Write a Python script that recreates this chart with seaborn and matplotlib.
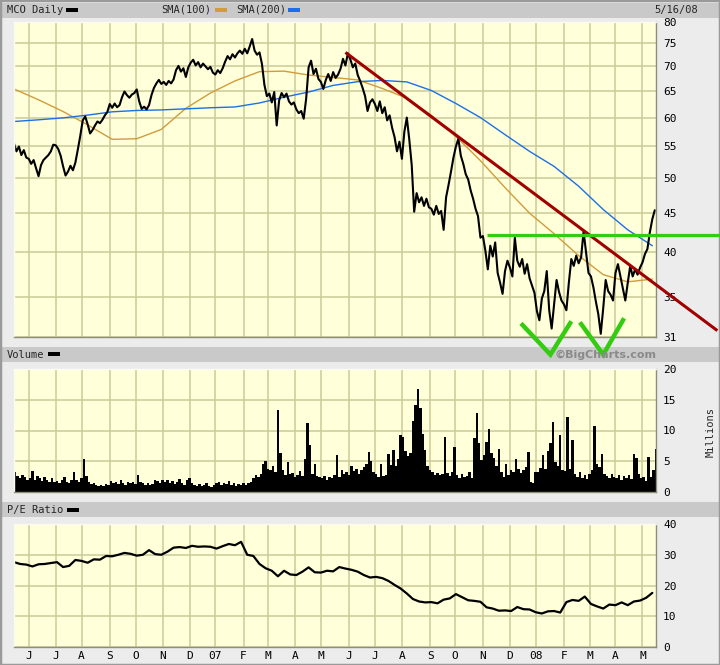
import numpy as np
import pandas as pd
import matplotlib
matplotlib.use("Agg")
import matplotlib.pyplot as plt
from matplotlib.patches import Rectangle
from matplotlib.ticker import NullLocator, FixedLocator
import seaborn as sns

start = "2006-05-16"
end = "2008-05-16"

# daily close, read every 2nd trading day, one row per month
close = [
    55.5, 54.2, 55.0, 53.6, 54.4, 53.2,
    53.0, 52.2, 52.8, 51.5, 50.3, 52.0, 52.8, 53.2, 53.6, 54.2, 55.3,
    55.2, 54.6, 53.5, 51.8, 50.4, 51.0, 51.9, 51.2, 52.4, 54.5, 56.8,
    59.5, 60.2, 58.8, 57.2, 57.8, 58.6, 59.3, 59.0, 59.6, 60.4, 61.0,
    62.5, 61.8, 62.6, 61.9, 62.3, 63.8, 64.9, 64.2, 63.7, 64.3, 64.6,
    65.3, 63.0, 61.6, 62.0, 61.5, 62.3, 64.2, 65.6, 66.5, 67.2, 66.4,
    66.8, 66.2, 67.0, 66.5, 67.3, 69.2, 70.1, 68.9, 69.6, 67.8, 69.8,
    70.8, 71.4, 70.2, 70.9, 69.8, 70.6, 70.0, 69.4, 69.9, 68.7,
    68.3, 69.2, 68.6, 69.6, 71.0, 72.2, 71.5, 72.6, 71.9, 72.8, 73.4, 72.7,
    73.8, 72.8, 74.3, 76.0, 73.4, 72.5, 73.0, 70.5, 66.2, 64.0,
    64.5, 62.8, 64.8, 58.6, 63.2, 64.6, 63.8, 64.5, 63.0, 62.4, 62.8,
    61.5, 60.8, 61.2, 59.8, 63.5, 69.8, 71.2, 68.4, 69.5, 67.4,
    66.8, 65.4, 67.2, 68.4, 67.0, 68.8, 67.6, 68.3, 69.5, 71.6, 70.2, 72.8,
    71.5, 69.8, 70.6, 68.2, 67.0, 65.6, 64.0, 61.2, 62.8, 63.4,
    62.5, 61.2, 63.0, 60.8, 61.9, 59.5, 60.4, 58.2, 56.6, 54.2, 55.8,
    53.0, 57.5, 60.0, 56.2, 52.0, 45.2, 47.8, 46.5, 47.2, 46.0, 47.0, 45.8,
    45.6, 44.8, 46.0, 44.9, 45.3, 42.8, 47.2, 49.0, 51.0, 53.2,
    55.0, 56.3, 53.5, 52.2, 50.6, 49.8, 48.2, 47.0, 45.6, 44.6, 41.8,
    42.0, 40.2, 38.0, 40.8, 39.5, 41.2, 37.6, 36.5, 35.3, 37.8, 39.0,
    38.2, 37.2, 41.8, 39.0, 38.3, 39.2, 37.5, 38.6, 37.0, 36.2, 35.4,
    33.5, 32.6, 34.8, 35.6, 37.8, 33.6, 31.8, 34.2, 36.8, 35.5, 34.6,
    34.2, 33.6, 36.5, 39.2, 38.4, 39.6, 38.7, 39.4, 42.6, 40.0, 37.6,
    37.2, 36.0, 34.5, 33.2, 31.3, 33.8, 36.8, 35.6, 35.2, 34.6,
    37.6, 38.6, 37.2, 35.8, 34.6, 36.5, 38.4, 37.2, 38.0, 37.4, 38.2,
    38.8, 39.8, 40.4, 42.5, 44.2, 45.4,
]

# volume in millions, same sampling as close
volume = [
    3.2, 2.6, 2.2, 2.8, 2.4, 2.0,
    2.2, 3.4, 2.0, 2.6, 2.3, 1.8, 2.4, 2.0, 1.7, 2.2, 1.6,
    1.8, 1.5, 2.0, 2.4, 1.7, 1.4, 1.9, 3.2, 2.0, 1.6, 2.2,
    5.3, 2.6, 1.6, 1.3, 1.5, 1.1, 0.9, 1.2, 1.0, 1.3, 1.1,
    1.8, 1.4, 1.6, 1.3, 1.9, 1.5, 1.2, 1.6, 1.4, 1.7, 1.3,
    2.7, 1.6, 1.4, 1.2, 1.5, 1.1, 1.3, 2.0, 1.8, 1.5, 1.9,
    1.7, 2.0, 1.5, 1.8, 1.3, 1.6, 2.1, 1.4, 1.2, 1.9, 2.3,
    1.5, 1.2, 1.0, 1.3, 0.9, 1.1, 1.4, 1.0, 0.8, 1.2,
    1.4, 1.7, 1.2, 1.5, 1.3, 1.8, 1.1, 1.4, 1.0, 1.3, 1.2, 1.5,
    1.2, 1.4, 1.6, 2.2, 2.8, 2.4, 3.0, 4.5, 5.1, 3.8,
    3.6, 4.2, 3.2, 13.3, 6.4, 3.5, 2.8, 4.9, 2.9, 3.1, 2.5,
    2.8, 3.4, 2.6, 5.4, 11.2, 7.6, 3.0, 4.5, 2.6, 2.4,
    2.2, 2.6, 1.9, 2.5, 2.3, 2.8, 6.0, 2.4, 3.6, 2.9, 3.3, 2.7,
    4.2, 3.4, 3.8, 2.9, 3.5, 4.0, 4.6, 6.5, 5.0, 3.3,
    3.0, 2.4, 4.6, 2.6, 2.8, 6.2, 4.4, 6.8, 4.3, 5.4, 9.2,
    9.0, 6.6, 5.9, 6.4, 11.6, 14.2, 16.8, 13.6, 9.4, 6.8, 4.3, 3.6,
    3.2, 2.8, 3.1, 2.7, 3.0, 9.0, 3.1, 2.6, 3.3, 7.3,
    2.8, 2.3, 3.0, 2.4, 2.6, 3.2, 2.2, 8.7, 12.8, 7.9, 5.2,
    6.0, 8.2, 10.3, 6.3, 5.5, 4.3, 7.0, 3.3, 2.4, 4.6, 2.8,
    3.6, 3.2, 5.4, 3.8, 3.1, 3.5, 4.0, 6.5, 1.6, 1.4, 3.2,
    3.3, 3.9, 6.0, 3.8, 6.6, 7.9, 11.4, 4.8, 4.2, 9.2, 3.6,
    3.4, 12.2, 3.8, 8.4, 2.9, 2.5, 3.2, 2.3, 2.8, 2.1, 3.0,
    3.6, 10.8, 4.5, 4.1, 6.2, 3.0, 2.6, 2.2, 2.9, 2.4,
    2.3, 2.8, 2.0, 2.6, 2.2, 2.7, 2.1, 6.2, 5.6, 3.0, 2.2,
    2.5, 1.8, 5.7, 2.4, 3.6, 7.0,
]

# moving averages, read every 20 trading days
sma100 = [65.4, 63.3, 61.1, 58.7, 56.2, 56.3, 57.9, 61.7, 64.6, 67.0, 68.9,
          69.0, 68.2, 67.7, 67.2, 65.5, 63.6, 60.4, 56.7, 52.7, 48.6, 45.0,
          42.3, 39.6, 37.4, 36.6, 36.9]
sma200 = [59.3, 59.6, 59.95, 60.45, 61.05, 61.3, 61.4, 61.6, 61.8, 61.95, 62.7,
          63.8, 64.8, 66.1, 66.85, 67.1, 66.8, 65.1, 62.6, 60.0, 57.0, 54.2,
          51.8, 48.8, 45.5, 42.8, 40.8]

# P/E ratio, read every 5 trading days
pe = [27.6, 27.0, 26.8, 26.2, 26.9, 27.0, 27.3, 27.6, 26.0, 26.4,
      28.3, 28.0, 27.4, 28.5, 28.4, 29.6, 29.5, 30.0, 30.6, 30.3,
      29.7, 30.0, 31.5, 30.2, 30.0, 31.0, 32.3, 32.5, 32.2, 32.9,
      32.6, 32.7, 32.6, 32.0, 32.8, 33.5, 33.1, 34.2, 30.0, 29.6,
      27.0, 25.6, 24.8, 23.0, 24.8, 23.6, 23.4, 24.5, 25.9, 24.3,
      24.2, 24.8, 24.6, 26.0, 25.5, 25.1, 24.5, 23.4, 22.6, 22.8,
      22.4, 21.5, 20.2, 19.0, 17.4, 15.6, 14.8, 14.5, 14.6, 14.2,
      15.4, 15.8, 17.2, 16.2, 15.2, 15.0, 14.7, 12.9, 12.5, 11.8,
      11.9, 11.7, 13.0, 12.3, 12.2, 11.3, 10.9, 11.6, 11.7, 11.2,
      14.6, 15.3, 15.0, 16.4, 14.0, 13.2, 12.5, 13.8, 13.6, 14.5,
      13.6, 14.8, 15.1, 16.0, 17.6]

# hand drawn annotations (date, price)
trend_dates = ["2007-05-29", "2008-07-25"]
trend_prices = [73.0, 31.6]
support_dates = ["2007-11-06", "2008-07-29"]
support_prices = [42.1, 42.1]
check1_dates = ["2007-12-14", "2008-01-17", "2008-02-11"]
check1_prices = [32.3, 29.4, 32.5]
check2_dates = ["2008-02-20", "2008-03-18", "2008-04-10"]
check2_prices = [32.4, 29.4, 32.8]

price_ticks = [31, 35, 40, 45, 50, 55, 60, 65, 70, 75, 80]
vol_ticks = [0, 5, 10, 15, 20]
pe_ticks = [0, 10, 20, 30, 40]

BG = "#ececec"
BAND = "#c9c9c9"
PANEL = "#ffffd9"
GRID = "#cbca98"
TAN = "#d19c3c"
BLUE = "#1d6fe8"
RED = "#a00000"
GREEN = "#33cc11"

sns.set_style("white")
plt.rcParams["font.family"] = ["DejaVu Sans Mono"]


def tday(d):
    return np.busday_count(start, np.datetime64(d, "D"))


def fx(px):
    return px / 720


def fy(py):
    return 1 - py / 665


days = pd.bdate_range(start, end)
n = len(days)
idx = np.arange(n)
is_first = np.r_[False, days.month[1:] != days.month[:-1]]
mpos = idx[is_first]
mlab = [d.strftime("%y") if d.month == 1 else d.strftime("%b")[0] for d in days[is_first]]

fig = plt.figure(figsize=(7.2, 6.65), dpi=100, facecolor=BG)

# grey header bands
for top in (3, 347, 502):
    fig.add_artist(Rectangle((fx(2), fy(top + 14.5)), fx(718), 14.5 / 665,
                             transform=fig.transFigure, color=BAND, lw=0, zorder=-1))
fig.add_artist(Rectangle((0, 0), 1, 1, transform=fig.transFigure, fill=False,
                         edgecolor="#9a9a9a", lw=2.5, zorder=-1))

ax1 = fig.add_axes([fx(14), fy(337), fx(642), 315 / 665])
ax2 = fig.add_axes([fx(14), fy(492), fx(642), 123 / 665])
ax3 = fig.add_axes([fx(14), fy(647), fx(642), 123 / 665])

for ax in (ax1, ax2, ax3):
    ax.set_facecolor(PANEL)
    ax.set_xlim(0, n - 1)
    ax.xaxis.set_major_locator(FixedLocator(mpos))
    ax.grid(True, color=GRID, lw=1.1)
    ax.set_axisbelow(True)
    ax.yaxis.tick_right()
    ax.tick_params(length=0, labelsize=8, pad=5, labelcolor="black")
    for side in ("top", "left"):
        ax.spines[side].set_color("#fbfbf3")
    for side in ("bottom", "right"):
        ax.spines[side].set_color("#8e8e78")
    for sp in ax.spines.values():
        sp.set_linewidth(1)
    ax.set_xlabel("")
    ax.set_ylabel("")

# price panel
ax1.set_yscale("log")
ax1.set_ylim(31, 80)
ax1.yaxis.set_major_locator(FixedLocator(price_ticks))
ax1.yaxis.set_minor_locator(NullLocator())
ax1.set_yticklabels([str(t) for t in price_ticks])
ax1.set_xticklabels([])

px = np.arange(len(close)) * 2
sx = np.arange(len(sma100)) * 20
sns.lineplot(x=sx, y=sma100, ax=ax1, color=TAN, lw=1.0, estimator=None)
sns.lineplot(x=sx, y=sma200, ax=ax1, color=BLUE, lw=1.0, estimator=None)
sns.lineplot(x=px, y=close, ax=ax1, color="black", lw=1.5, estimator=None)

ax1.plot([tday(d) for d in trend_dates], trend_prices, color=RED, lw=2.2,
         clip_on=False, zorder=5, solid_capstyle="butt")
ax1.plot([tday(d) for d in support_dates], support_prices, color=GREEN, lw=2.3,
         clip_on=False, zorder=5, solid_capstyle="butt")
for dts, prs in ((check1_dates, check1_prices), (check2_dates, check2_prices)):
    ax1.plot([tday(d) for d in dts], prs, color=GREEN, lw=3.2, clip_on=False,
             zorder=6, solid_capstyle="butt", solid_joinstyle="miter")
ax1.set_xlim(0, n - 1)
ax1.set_ylim(31, 80)

# volume panel
vx = np.arange(len(volume)) * 2
ax2.bar(vx, volume, width=2, align="edge", color="black", lw=0)
ax2.set_ylim(0, 20)
ax2.set_yticks(vol_ticks)
ax2.set_xticklabels([])
ax2.set_xlim(0, n - 1)

# P/E panel
ex = np.arange(len(pe)) * 5
sns.lineplot(x=ex, y=pe, ax=ax3, color="black", lw=1.6, estimator=None)
ax3.set_ylim(0, 40)
ax3.set_yticks(pe_ticks)
ax3.set_xticklabels(mlab)
ax3.tick_params(axis="x", pad=3)
ax3.set_xlim(0, n - 1)

# header texts and legend swatches
fs = 7.5
fig.text(fx(7), fy(10), "MCO Daily", fontsize=fs, va="center")
fig.text(fx(161), fy(10), "SMA(100)", fontsize=fs, va="center")
fig.text(fx(236), fy(10), "SMA(200)", fontsize=fs, va="center")
fig.text(fx(698), fy(10), "5/16/08", fontsize=fs, va="center", ha="right")
fig.text(fx(7), fy(354.5), "Volume", fontsize=fs, va="center")
fig.text(fx(7), fy(509.5), "P/E Ratio", fontsize=fs, va="center")
fig.text(fx(656), fy(354.5), "\u00a9BigCharts.com", fontsize=8, va="center", ha="right",
         color="#8a8a8a", fontweight="bold", family=["DejaVu Sans"])
fig.text(fx(711), fy(432), "Millions", fontsize=fs, va="center", ha="center", rotation=90)

for x0, y0, c in ((66, 10, "black"), (215, 10, TAN), (288, 10, BLUE),
                  (48, 354.5, "black"), (67, 509.5, "black")):
    fig.add_artist(Rectangle((fx(x0), fy(y0 + 2)), fx(12), 4 / 665,
                             transform=fig.transFigure, color=c, lw=0))

fig.savefig("out.png", dpi=100, facecolor=BG)
